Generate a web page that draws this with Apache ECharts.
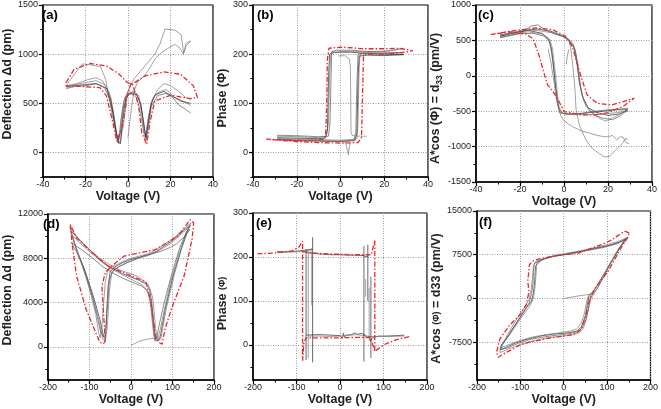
<!DOCTYPE html>
<html><head><meta charset="utf-8">
<script src="https://cdn.jsdelivr.net/npm/echarts@6/dist/echarts.min.js"></script>
<style>html,body{margin:0;padding:0;background:#fff}#c{width:661px;height:409px}</style>
</head><body><div id="c"></div><script>
// ---------- tick values ----------
const xTicksSmall = [-40, -20, 0, 20, 40];
const xMinorSmall = [-30, -10, 10, 30];
const xTicksBig = [-200, -100, 0, 100, 200];
const xMinorBig = [-150, -50, 50, 150];
const yTicksA = [0, 500, 1000, 1500];      const yMinorA = [-250, 250, 750, 1250];
const yTicksB = [0, 100, 200, 300];        const yMinorB = [-50, 50, 150, 250];
const yTicksC = [-1500, -1000, -500, 0, 500, 1000]; const yMinorC = [-1250, -750, -250, 250, 750];
const yTicksD = [0, 4000, 8000, 12000];    const yMinorD = [-2000, 2000, 6000, 10000];
const yTicksE = [0, 100, 200, 300];        const yMinorE = [-50, 50, 150, 250];
const yTicksF = [-7500, 0, 7500, 15000];   const yMinorF = [-11250, -3750, 3750, 11250];

// ---------- panel (a): deflection vs voltage ----------
const aGray1 = [[-29,680],[-25,800],[-21.5,900],[-19,895],[-13,875],[-10.5,745],[-7.6,405],[-5,130],[-3.8,100],[-2,300],[-0.3,610],[2.7,745],[8,880],[12.6,1000],[15,1100],[17.4,1255],[22,1245],[25,1200],[26.2,1010],[27.3,1110],[29.5,1135]];
const aGray2 = [[0,150],[0.8,300],[1.8,480],[2.8,620],[4.5,720],[7,760],[10,850],[13,960],[16,1020],[19,1060],[22,1100],[24.5,1060],[26,1000],[27.5,1090],[29.5,1130]];
const aGray3 = [[-29,660],[-25,690],[-20,710],[-15,730],[-11,690],[-8,560],[-6,300],[-4.8,100],[-4,150],[-3,380],[-1.5,560],[0,600],[2,590],[4,560],[5.5,450],[7,250],[8,150],[9,250],[10.5,450],[12,560],[15,620],[18,640],[22,560],[26,520],[29.5,480]];
const aGray4 = [[-29,680],[-24,700],[-19,740],[-15,760],[-12,730],[-9,620],[-7,420],[-5.5,180],[-4.5,90],[-3.5,300],[-2,520],[0,620],[3,600],[5,580],[6.5,400],[7.5,200],[8.5,180],[9.5,350],[11,520],[14,640],[17,700],[20,680],[24,620],[27,560],[29.5,540]];
const aGray5 = [[-29,650],[-25,670],[-20,680],[-15,700],[-11,660],[-9,560],[-7,400],[-5.5,200],[-4.5,130],[-3.5,200],[-2,470],[0,580],[2,620],[4,600],[6,480],[7.5,300],[8.5,120],[9.5,250],[11,470],[14,580],[18,600],[21,560],[24,480],[27,440],[29.5,400]];
const aBlack = [[-29,670],[-25,680],[-20,690],[-15,700],[-10,650],[-8,520],[-6,260],[-4.5,100],[-3.5,90],[-2.5,330],[-1,560],[1,600],[4,590],[6,500],[7.5,270],[8.5,150],[9.5,300],[11,500],[13,590],[17,620],[21,570],[25,520],[29.5,500]];
const aRed = [[-29.1,711],[-25.3,847],[-17.7,905],[-10.1,881],[-4.1,796],[-0.3,711],[2,694],[8,779],[17.1,819],[24.7,796],[30.8,677],[32.7,558],[29.2,548],[20.1,582],[12.6,524],[10.3,303],[8.8,82],[6.5,201],[5,472],[2.7,660],[1.5,711],[-0.3,575],[-2.6,268],[-5.3,115],[-7.1,303],[-10.1,575],[-13.2,660],[-20.8,670],[-29.1,677],[-29.1,711]];

// ---------- panel (b): phase vs voltage ----------
const bGray1 = [[-29,33],[-20,32],[-10,30],[-6.5,32],[-5.5,60],[-5,150],[-4.5,198],[-3,203],[0,205],[5,206],[10,205],[20,206],[29,212],[25,208],[20,205],[12,203],[9,202],[8.5,170],[8,60],[7.5,28],[5,26],[0,25],[-10,26],[-20,27],[-29,28]];
const bGray2 = [[-29,30],[-20,29],[-10,28],[-7,29],[-6,45],[-5.5,150],[-5,200],[-3.5,204],[0,204],[5,204],[10,202],[20,200],[29,199],[20,197],[12,198],[8.5,196],[8,150],[7.5,40],[6.5,24],[0,22],[-10,23],[-20,24],[-29,26]];
const bGray3 = [[-29,35],[-20,34],[-10,32],[-5.5,33],[-4.8,60],[-4.3,160],[-4,205],[-2,208],[0,208],[5,208],[10,206],[20,204],[29,203],[20,201],[10,201],[8,200],[7.5,140],[7,40],[6,25],[0,23],[-10,24],[-20,25],[-29,27]];
const bGray4 = [[-1,196],[2,197],[4,190],[4.5,175],[4.7,100],[4.8,40],[5.5,34],[9,33],[12,33]];
const bDip = [[1,24],[2.5,18],[3.3,2],[3.6,-5],[3.9,8],[4.5,20]];
const bRed = [[-34,27],[-25,25],[-15,24],[-8,26],[-6.8,35],[-6.3,100],[-6,190],[-5.3,212],[0,214],[5,213],[10,211],[20,211],[27,212],[33,207],[28,203],[20,200],[12,200],[10.5,195],[10,100],[9.6,30],[8,20],[0,19],[-10,20],[-20,22],[-34,27]];

// ---------- panel (c): A*cos(phi) vs voltage ----------
const cGray1 = [[-29,560],[-24,600],[-18,640],[-12,660],[-6,630],[-1,570],[2,520],[4.5,400],[6,150],[7,-100],[8.5,-300],[11,-450],[15,-520],[20,-560],[25,-540],[29,-480],[24,-480],[18,-500],[12,-520],[6,-540],[1,-540],[-2,-520],[-3,-380],[-4,-100],[-4.8,150],[-5.7,380],[-7,520],[-10,600],[-16,640],[-22,610],[-29,560]];
const cGray2 = [[-29,580],[-24,610],[-18,650],[-12,640],[-6,610],[-1,560],[2,500],[5,380],[6.5,120],[7.5,-150],[9,-350],[12,-500],[16,-600],[19,-640],[23,-580],[27,-520],[29,-500],[24,-520],[18,-540],[12,-550],[6,-550],[1,-545],[-1.5,-520],[-2.5,-400],[-3.5,-100],[-4.3,150],[-5.2,380],[-6.5,520],[-10,590],[-16,620],[-22,600],[-29,580]];
const cGray3 = [[-29,540],[-24,570],[-20,600],[-15,700],[-12,720],[-8,640],[-3,580],[1,540],[4,460],[5.5,300],[6.5,50],[8,-250],[10,-430],[14,-560],[18,-600],[22,-620],[26,-560],[29,-460],[25,-470],[20,-480],[14,-500],[8,-530],[3,-540],[-0.5,-530],[-2.5,-450],[-3.5,-250],[-4.5,50],[-5.5,300],[-6.5,480],[-9,560],[-14,600],[-22,590],[-29,540]];
const cLow1 = [[-7.2,380],[-6,200],[-4.5,-100],[-3.4,-340],[-1.5,-560],[-0.4,-620],[2,-680],[4,-720],[8,-780],[11.5,-810],[15,-840],[18,-860],[20.5,-860],[22,-840],[24,-900],[25.8,-860],[27,-870],[28,-940],[29.5,-960]];
const cLow2 = [[2,520],[3,400],[4,150],[5,-200],[5.5,-480],[7,-700],[10,-908],[13,-1030],[16,-1097],[18,-1144],[20.5,-1140],[23.5,-1050],[26.5,-955],[28,-884],[29,-900]];
const cHook = [[1,160],[1.5,280],[2.2,370]];
const cRed = [[-33.3,582],[-24.7,629],[-12.7,676],[-5.2,652],[0.7,558],[3.7,416],[6,180],[8.2,-57],[10.5,-270],[15,-388],[21.7,-411],[27,-364],[31.9,-317],[27,-430],[20,-520],[14,-553],[8,-553],[4.5,-530],[0,-506],[-3,-317],[-5.5,-200],[-7.5,-128],[-9.5,80],[-11.2,274],[-14,520],[-17.2,590],[-24.7,619],[-33.3,582]];

// ---------- panel (d): deflection vs voltage (high field) ----------
const dGray1 = [[-145,10500],[-120,9500],[-95,8600],[-70,7700],[-45,7100],[-20,6600],[0,6300],[20,6000],[35,5700],[45,5200],[50,4000],[54,2500],[57,1200],[60,600],[68,600],[72,1200],[82,3300],[100,6200],[120,8700],[138,10600],[143,11000],[140,11100],[120,10300],[100,9600],[80,9100],[60,8600],[40,8300],[20,8100],[0,7900],[-20,7600],[-40,7200],[-50,6800],[-55,5500],[-58,3500],[-60,1500],[-62,700],[-66,900],[-75,2500],[-90,4500],[-110,6800],[-128,8500],[-140,9800],[-145,10500]];
const dGray2 = [[-140,10000],[-115,9100],[-90,8300],[-65,7500],[-40,6900],[-15,6400],[5,6000],[22,5700],[33,5400],[42,4800],[48,3500],[52,2000],[55,1000],[58,500],[64,600],[70,1500],[80,3300],[95,5800],[115,8300],[132,10200],[140,10800],[136,10900],[118,10100],[98,9400],[78,8900],[58,8500],[38,8200],[18,8000],[-2,7700],[-22,7400],[-40,7000],[-47,6500],[-52,5000],[-55,3000],[-58,1500],[-62,500],[-68,700],[-76,2200],[-90,4200],[-108,6300],[-124,8000],[-136,9300],[-140,10000]];
const dGray3 = [[-147,10800],[-125,9700],[-100,8800],[-75,8000],[-50,7400],[-25,6900],[0,6600],[20,6300],[30,6000],[42,5600],[52,4500],[56,3000],[60,1500],[64,700],[72,700],[76,1600],[86,3600],[105,6600],[125,9300],[140,10900],[145,11200],[141,11300],[122,10500],[102,9800],[82,9300],[62,8800],[40,8400],[20,8200],[0,8000],[-20,7700],[-42,7300],[-56,6900],[-62,5800],[-66,3800],[-70,1800],[-74,800],[-78,1300],[-85,3000],[-100,5200],[-118,7500],[-135,9300],[-147,10800]];
const dGray4 = [[-143,9400],[-120,8800],[-95,8100],[-70,7300],[-45,6700],[-20,6200],[5,5800],[25,5500],[40,5100],[48,4000],[52,2600],[56,1200],[58,600],[62,800],[68,2000],[82,4300],[100,6800],[118,9000],[135,10500],[142,10600],[130,10000],[110,9300],[90,8900],[70,8600],[50,8400],[30,8200],[10,7900],[-10,7600],[-30,7200],[-45,6800],[-52,6000],[-56,4000],[-60,2000],[-66,900],[-72,1200],[-82,2800],[-96,5000],[-115,7300],[-133,8700],[-143,9400]];
const dInit = [[0,150],[10,300],[20,500],[35,650],[50,750],[60,780]];
const dRed = [[-146,11040],[-142,9390],[-131,6390],[-108,3390],[-85,1290],[-75,400],[-66,300],[-62,540],[-66,3000],[-70,5490],[-62,6690],[-47,7290],[-17,8190],[21,8490],[59,8790],[113,9990],[143,11490],[151,11190],[147,9690],[128,6390],[97,3390],[82,1590],[75,240],[67,390],[59,990],[48,3990],[37,5790],[21,6090],[-17,6690],[-55,7290],[-93,8490],[-131,9840],[-146,11040]];

// ---------- panel (e): phase vs voltage (high field) ----------
const eTop1 = [[-145,212],[-120,212],[-100,213],[-85,215],[-75,216],[-65,218]];
const eTop2 = [[-145,210],[-110,211],[-90,212],[-80,213],[-70,215],[-62,218]];
const eTopRight = [[-78,210],[-60,208],[-40,206],[-20,205],[0,205],[20,204],[40,204],[55,203],[60,200],[65,202]];
const eBottom1 = [[-78,22],[-60,23],[-40,23],[-20,22],[0,21],[5,15],[8,26],[10,18],[15,22],[25,23],[35,27],[40,24],[50,26],[58,22],[62,15],[66,20],[70,8],[75,17],[90,20],[110,20],[130,21],[148,22]];
const eBottom2 = [[-72,20],[-50,20],[-20,19],[0,20],[20,22],[40,23],[56,21],[70,19],[100,19],[148,20]];
const eSpikeXs = [-78, -73, -63, -65, 55, 59, 64, 67, 71];
const eSpikeTops = [218, 215, 245, 220, 225, 150, 228, 130, 155];
const eSpikeBottoms = [-35, -30, -40, 90, -38, 110, 100, 10, -30];
const eRed1 = [[-190,207],[-150,209],[-110,214],[-95,222],[-86,236],[-86,-36],[-83,5],[-78,16],[-40,16],[0,16],[40,17],[70,17],[80,-15],[100,0],[130,12],[160,19]];
const eRed2 = [[-86,212],[-50,208],[0,206],[40,205],[72,205],[80,238],[80,-15]];

// ---------- panel (f): A*cos(phi) vs voltage (high field) ----------
const fGray1 = [[145,10300],[130,9700],[100,9000],[70,8600],[40,8100],[10,7600],[-20,7300],[-45,6800],[-60,6200],[-65,5500],[-67,3000],[-70,800],[-75,-500],[-85,-1500],[-100,-3200],[-120,-5500],[-135,-7200],[-145,-8200],[-145,-8800],[-130,-8300],[-110,-7600],[-80,-6900],[-50,-6400],[-20,-6100],[10,-5900],[30,-5600],[40,-5000],[50,-3000],[55,-800],[58,300],[65,900],[75,2000],[90,3800],[110,6300],[130,8700],[145,10300]];
const fGray2 = [[140,10000],[120,9300],[90,8700],[60,8300],[30,7900],[0,7500],[-30,7100],[-50,6600],[-62,5800],[-64,4000],[-66,2000],[-70,0],[-78,-1300],[-95,-3000],[-115,-5200],[-132,-7000],[-143,-7900],[-143,-8400],[-125,-7900],[-100,-7200],[-70,-6600],[-40,-6200],[-10,-5900],[15,-5600],[30,-5200],[40,-4300],[48,-2500],[53,-500],[57,500],[68,1200],[80,2600],[95,4500],[115,7000],[132,9000],[140,10000]];
const fGray3 = [[147,10500],[130,9900],[100,9200],[70,8700],[40,8200],[10,7800],[-20,7400],[-45,6900],[-65,6300],[-70,5500],[-72,3500],[-75,1500],[-80,-200],[-90,-1500],[-108,-3500],[-128,-6000],[-140,-7600],[-147,-8500],[-147,-9300],[-128,-8700],[-100,-7900],[-70,-7300],[-40,-6800],[-10,-6500],[20,-6300],[35,-5900],[45,-5200],[52,-3500],[58,-1500],[63,0],[72,1000],[85,2800],[100,5000],[120,7800],[138,9800],[147,10500]];
const fGray4 = [[143,10200],[125,9500],[95,8900],[65,8400],[35,8000],[5,7600],[-25,7200],[-50,6700],[-68,6000],[-70,4500],[-71,2500],[-74,800],[-80,-800],[-92,-2200],[-110,-4300],[-128,-6400],[-142,-8000],[-146,-8800],[-130,-8500],[-105,-7700],[-75,-7000],[-45,-6600],[-15,-6300],[10,-6100],[28,-5800],[40,-5300],[50,-4000],[56,-2000],[60,-300],[66,700],[78,1800],[92,3700],[110,6200],[128,8600],[143,10200]];
const fInit = [[0,0],[20,250],[40,500],[55,650],[70,800]];
const fRed = [[151,11250],[140,11540],[110,10000],[87,9230],[60,8500],[34,7790],[0,7500],[-20,7300],[-41.5,7000],[-60,6700],[-72,6400],[-79,5770],[-83,2880],[-80,1150],[-87,-1150],[-102,-2880],[-125,-4620],[-147,-6920],[-155,-9230],[-151,-10100],[-132,-9230],[-100,-8000],[-79,-7500],[-41.5,-6920],[11,-6350],[30,-5900],[41.5,-5190],[53,-2310],[60,0],[72,1730],[102,4620],[132,8650],[147,10380],[151,11250]];

// ---------- build ----------
const FONT = '"Liberation Sans", Arial, sans-serif';
const RED = '#e8282c';
const GRAY = '#7a7a7a';
const MID = '#5a5a5a';
const DARK = '#2a2a2a';

const panels = [
  {grid:{left:37,top:5,width:176,height:172}, x:[-40,40,xTicksSmall,xMinorSmall], y:[-250,1500,yTicksA,yMinorA],
   yName:'Deflection Δd (pm)', yGap:23, yPad:[0,0,0,14], label:'(a)', lx:42, ly:9,
   lines:[[aGray1,GRAY],[aGray2,GRAY],[aGray3,GRAY],[aGray4,GRAY],[aGray5,MID],[aBlack,DARK],[aRed,'red']]},
  {grid:{left:253,top:5,width:175,height:172}, x:[-40,40,xTicksSmall,xMinorSmall], y:[-50,300,yTicksB,yMinorB],
   yName:'Phase (Φ)', yGap:19, yPad:[0,14,0,0], label:'(b)', lx:257, ly:9,
   lines:[[bGray1,GRAY],[bGray2,DARK],[bGray3,MID],[bGray4,GRAY],[bDip,GRAY],[bRed,'red']]},
  {grid:{left:476,top:5,width:176,height:177}, x:[-40,40,xTicksSmall,xMinorSmall], y:[-1500,1000,yTicksC,yMinorC],
   yName:'A*cos (Φ) = d{sub|33} (pm/V)', yGap:25, yPad:[0,10,0,0], label:'(c)', lx:478, ly:9,
   lines:[[cGray1,DARK],[cGray2,GRAY],[cGray3,MID],[cLow1,GRAY],[cLow2,GRAY],[cHook,GRAY],[cRed,'red']]},
  {grid:{left:39,top:214,width:175,height:166}, x:[-200,200,xTicksBig,xMinorBig], y:[-3000,12000,yTicksD,yMinorD],
   yName:'Deflection Δd (pm)', yGap:25, yPad:[0,0,0,14], label:'(d)', lx:43, ly:218,
   lines:[[dGray1,DARK],[dGray2,GRAY],[dGray3,GRAY],[dGray4,MID],[dInit,GRAY],[dRed,'red']]},
  {grid:{left:253,top:213,width:174,height:167}, x:[-200,200,xTicksBig,xMinorBig], y:[-80,300,yTicksE,yMinorE],
   yName:'Phase {sm|(Φ)}', yGap:19, yPad:[0,14,0,0], label:'(e)', lx:256, ly:217,
   lines:[[eTop1,DARK],[eTop2,GRAY],[eTopRight,DARK],[eBottom1,DARK],[eBottom2,GRAY],[eRed1,'red'],[eRed2,'red']]},
  {grid:{left:477,top:211,width:176,height:169}, x:[-200,200,xTicksBig,xMinorBig], y:[-14000,15000,yTicksF,yMinorF],
   yName:'A*cos {sm|(Φ)} = d33 (pm/V)', yGap:27, yPad:[0,6,0,0], label:'(f)', lx:479, ly:216,
   lines:[[fGray1,DARK],[fGray2,GRAY],[fGray3,GRAY],[fGray4,MID],[fInit,GRAY],[fRed,'red']]}
];
// spikes for panel (e)
eSpikeXs.forEach((x, i) => {
  panels[4].lines.splice(panels[4].lines.length - 2, 0, [[[x, eSpikeTops[i]], [x, eSpikeBottoms[i]]], i % 2 ? GRAY : DARK]);
});

const rich = {
  sub:{fontFamily:FONT,fontWeight:'bold',fontSize:8.5,color:'#222',verticalAlign:'bottom',lineHeight:17},
  sm:{fontFamily:FONT,fontWeight:'bold',fontSize:9,color:'#222'}
};

const grids = [], xAxes = [], yAxes = [], series = [], graphics = [];
panels.forEach((p, gi) => {
  grids.push(Object.assign({show:true, borderColor:'#000', borderWidth:1.2, containLabel:false}, p.grid));
  const [xmin, xmax, xmaj, xmin2] = p.x;
  const [ymin, ymax, ymaj, ymin2] = p.y;
  const common = (min, max, majors) => ({
    type:'value', gridIndex:gi, min, max,
    axisLine:{show:true, onZero:false, lineStyle:{color:'#000', width:1.5}},
    axisTick:{show:true, inside:false, length:4, customValues:majors, lineStyle:{color:'#000', width:1.2}},
    axisLabel:{show:true, customValues:majors, fontFamily:FONT, fontSize:9, color:'#222', formatter: v => String(v)},
    splitLine:{show:true, lineStyle:{color:'#9a9a9a', width:1, type:[1,1.5]}},
    nameLocation:'middle',
    nameTextStyle:{fontFamily:FONT, fontWeight:'bold', fontSize:12.5, color:'#222', rich}
  });
  const minorAx = (min, max, minors, pos) => ({
    type:'value', gridIndex:gi, min, max, position:pos, offset:0,
    axisLine:{show:false, onZero:false}, axisLabel:{show:false},
    axisTick:{show:true, inside:false, length:2.5, customValues:minors, lineStyle:{color:'#000', width:1}},
    splitLine:{show:false}
  });
  const xa = common(xmin, xmax, xmaj);
  xa.position = 'bottom'; xa.name = 'Voltage (V)'; xa.nameGap = 13; xa.axisLabel.margin = 3;
  const ya = common(ymin, ymax, ymaj);
  ya.position = 'left'; ya.name = p.yName; ya.nameGap = p.yGap; ya.axisLabel.margin = 5;
  ya.nameTextStyle.padding = p.yPad;
  xAxes.push(xa, minorAx(xmin, xmax, xmin2, 'bottom'));
  yAxes.push(ya, minorAx(ymin, ymax, ymin2, 'left'));
  p.lines.forEach(([data, col]) => {
    const isRed = col === 'red';
    series.push({
      type:'line', xAxisIndex:2*gi, yAxisIndex:2*gi, data, showSymbol:false, symbol:'none',
      silent:true, animation:false, clip:true, z: isRed ? 3 : 2,
      lineStyle:{color: isRed ? RED : col, width: isRed ? 1.3 : 0.7, type: isRed ? [5,2,1.5,2] : 'solid'}
    });
  });
  graphics.push({type:'text', left:p.lx, top:p.ly, z:10,
    style:{text:p.label, fill:'#000', font:'bold 13px "Liberation Sans", Arial, sans-serif'}});
});

const chart = echarts.init(document.getElementById('c'), null, {renderer:'canvas'});
chart.setOption({
  animation:false, backgroundColor:'#fff',
  grid:grids, xAxis:xAxes, yAxis:yAxes, series, graphic:graphics
});
</script></body></html>
